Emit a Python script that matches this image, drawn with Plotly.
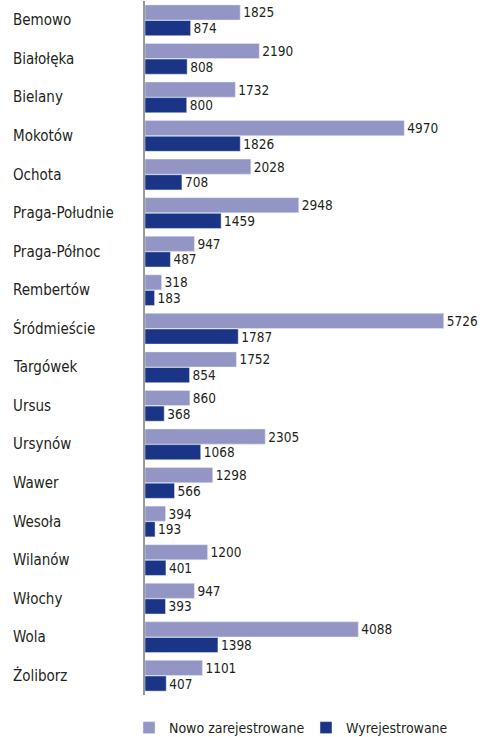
import plotly.graph_objects as go

# Warsaw districts, top to bottom
districts = [
    "Bemowo", "Białołęka", "Bielany", "Mokotów", "Ochota", "Praga-Południe",
    "Praga-Północ", "Rembertów", "Śródmieście", "Targówek", "Ursus", "Ursynów",
    "Wawer", "Wesoła", "Wilanów", "Włochy", "Wola", "Żoliborz",
]
nowo_zarejestrowane = [1825, 2190, 1732, 4970, 2028, 2948, 947, 318, 5726,
                       1752, 860, 2305, 1298, 394, 1200, 947, 4088, 1101]
wyrejestrowane = [874, 808, 800, 1826, 708, 1459, 487, 183, 1787,
                  854, 368, 1068, 566, 193, 401, 393, 1398, 407]

FONT = "DejaVu Sans Condensed, Liberation Sans Narrow, Arial Narrow, sans-serif"
TEXT_COLOR = "#231f20"

fig = go.Figure()
fig.add_trace(go.Bar(
    name="Nowo zarejestrowane", y=districts, x=nowo_zarejestrowane,
    orientation="h", marker=dict(color="#9395c4"),
    text=nowo_zarejestrowane, textposition="outside", cliponaxis=False,
    constraintext="none", legend="legend",
    textfont=dict(family=FONT, size=13.5, color=TEXT_COLOR),
))
fig.add_trace(go.Bar(
    name="Wyrejestrowane", y=districts, x=wyrejestrowane,
    orientation="h", marker=dict(color="#1a3486"),
    text=wyrejestrowane, textposition="outside", cliponaxis=False,
    constraintext="none", legend="legend2",
    textfont=dict(family=FONT, size=13.5, color=TEXT_COLOR),
))

# district names, left aligned in the left margin
for d in districts:
    fig.add_annotation(
        x=-134 / 325, xref="paper", y=d, yref="y",
        text=d, showarrow=False, xanchor="left", yanchor="middle",
        font=dict(family=FONT, size=15, color=TEXT_COLOR),
    )

legend_common = dict(
    orientation="h", xref="container", yref="container",
    y=1 - 728 / 737, xanchor="left", yanchor="middle",
    font=dict(family=FONT, size=14, color=TEXT_COLOR),
    bgcolor="rgba(0,0,0,0)",
)

fig.update_layout(
    width=480, height=737,
    margin=dict(l=145, r=10, t=1, b=42),
    paper_bgcolor="white", plot_bgcolor="white",
    barmode="group", bargap=0.19, bargroupgap=0.03,
    xaxis=dict(range=[0, 6230], visible=False, fixedrange=True),
    yaxis=dict(
        autorange="reversed", showticklabels=False, ticks="",
        showline=True, linecolor="#9a9a9a", linewidth=2, showgrid=False,
        zeroline=False,
    ),
    legend=dict(x=129 / 480, **legend_common),
    legend2=dict(x=306 / 480, **legend_common),
    showlegend=True,
)

fig.write_html("out.html")
